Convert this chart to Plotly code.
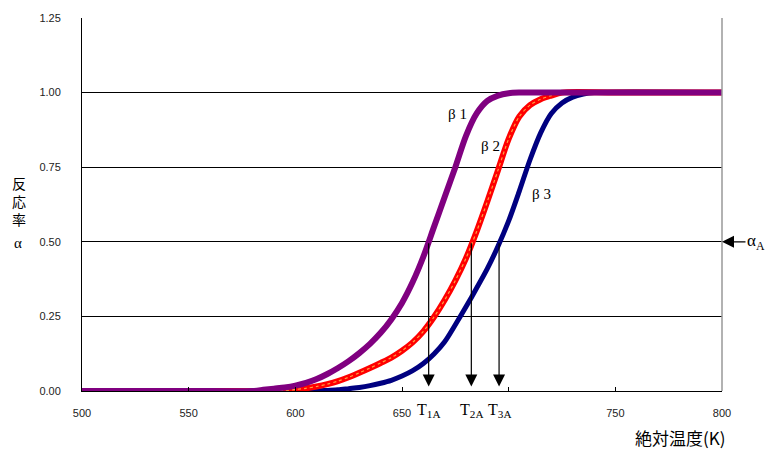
import plotly.graph_objects as go

# Temperature grid (K) and reaction rate readings for each heating rate
temps_b1 = [500, 550, 580, 585, 590, 595, 600, 605, 610, 615, 620, 625, 630, 635, 640, 645, 650,
            655, 660, 665, 670, 675, 680, 685, 690, 695, 700, 705, 750, 800]
alpha_b1 = [0.0, 0.0, 0.0, 0.004, 0.008, 0.012, 0.018, 0.027, 0.04, 0.057, 0.077, 0.1, 0.127, 0.158,
            0.195, 0.24, 0.295, 0.365, 0.45, 0.55, 0.65, 0.75, 0.855, 0.93, 0.972, 0.99, 0.998, 1.0, 1.0, 1.0]

temps_b2 = [500, 550, 590, 595, 600, 605, 610, 615, 620, 625, 630, 635, 640, 645, 650, 655, 660,
            665, 670, 675, 680, 685, 690, 695, 700, 705, 710, 715, 720, 725, 750, 800]
alpha_b2 = [0.0, 0.0, 0.0, 0.002, 0.005, 0.009, 0.015, 0.023, 0.033, 0.046, 0.061, 0.077, 0.094,
            0.112, 0.135, 0.163, 0.2, 0.248, 0.305, 0.37, 0.445, 0.535, 0.635, 0.74, 0.845, 0.92, 0.958,
            0.978, 0.99, 1.0, 1.0, 1.0]

temps_b3 = [500, 550, 610, 615, 620, 625, 630, 635, 640, 645, 650, 655, 660, 665, 670, 675, 680,
            685, 690, 695, 700, 705, 710, 715, 720, 725, 730, 735, 740, 800]
alpha_b3 = [0.0, 0.0, 0.0, 0.002, 0.004, 0.008, 0.012, 0.018, 0.026, 0.036, 0.05, 0.068, 0.092,
            0.124, 0.165, 0.222, 0.282, 0.345, 0.41, 0.485, 0.57, 0.67, 0.775, 0.865, 0.93, 0.965, 0.985,
            0.995, 1.0, 1.0]

# Temperatures at alpha_A = 0.5
t_half = [662.5, 682.5, 695.5]
t_labels = ["T<sub>1A</sub>", "T<sub>2A</sub>", "T<sub>3A</sub>"]
alpha_a = 0.5

x_ticks = [500, 550, 600, 650, 700, 750, 800]
x_ticktext = ["500", "550", "600", "650", "", "750", "800"]  # 700 hidden behind T3A label
y_ticks = [0, 0.25, 0.5, 0.75, 1.0, 1.25]
y_ticktext = ["0.00", "0.25", "0.50", "0.75", "1.00", "1.25"]

series = [
    ("β3", temps_b3, alpha_b3, "#000080", 5),
    ("β2", temps_b2, alpha_b2, "#FF0000", 6),
    ("β1", temps_b1, alpha_b1, "#800080", 6),
]

fig = go.Figure()
for name, xs, ys, color, w in series:
    fig.add_trace(go.Scatter(x=xs, y=ys, mode="lines", name=name,
                             line=dict(color=color, width=w, shape="spline", smoothing=0.8),
                             showlegend=False))
    if name == "β2":
        fig.add_trace(go.Scatter(x=xs, y=ys, mode="lines", showlegend=False, hoverinfo="skip",
                                 line=dict(color="#FFA040", width=1.2, dash="dot",
                                           shape="spline", smoothing=0.8)))

tick_font = dict(family="Liberation Sans, Arial", size=11, color="#222")

fig.update_layout(
    width=772, height=451,
    margin=dict(l=82, r=50, t=16, b=60),
    paper_bgcolor="white", plot_bgcolor="white",
    xaxis=dict(range=[500, 800], tickvals=x_ticks, ticktext=x_ticktext,
               showgrid=False, zeroline=False, showline=True, linecolor="black", linewidth=1,
               ticks="inside", ticklen=4, tickcolor="black", tickfont=tick_font,
               ticklabelstandoff=12),
    yaxis=dict(range=[0, 1.25], tickvals=y_ticks, ticktext=y_ticktext,
               showgrid=True, gridcolor="black", gridwidth=1, zeroline=False,
               showline=True, linecolor="black", linewidth=1, ticks="", tickfont=tick_font,
               ticklabelstandoff=18),
)

# right border
fig.add_shape(type="line", xref="paper", yref="paper", x0=1, x1=1, y0=0, y1=1,
              line=dict(color="#999", width=1.5))

serif = "Liberation Serif, Times New Roman, serif"

# vertical arrows from alpha_A to the temperature axis
for t, lab in zip(t_half, t_labels):
    fig.add_annotation(x=t, y=0.015, ax=t, ay=alpha_a, xref="x", yref="y", axref="x", ayref="y",
                       text="", showarrow=True, arrowhead=2, arrowsize=2.0, arrowwidth=1.2,
                       arrowcolor="black")
    fig.add_annotation(x=t, y=0, xref="x", yref="y", yanchor="top", yshift=-8,
                       text=lab, showarrow=False,
                       font=dict(family=serif, size=16, color="black"))

# alpha_A marker at the right edge
fig.add_annotation(x=800, y=alpha_a, xref="x", yref="y", ax=34, ay=0,
                   text="α<sub>A</sub>", showarrow=True, arrowhead=2, arrowsize=2.0,
                   arrowwidth=1.2, arrowcolor="black",
                   font=dict(family=serif, size=17, color="black"))

# curve labels
for txt, x, y in [("β 1", 676, 0.927), ("β 2", 691.5, 0.82), ("β 3", 715.5, 0.66)]:
    fig.add_annotation(x=x, y=y, xref="x", yref="y", text=txt, showarrow=False,
                       font=dict(family=serif, size=15, color="black"))

# axis titles
cjk = "Noto Sans CJK JP"
fig.add_annotation(xref="paper", yref="paper", x=(19 - 82) / 640, y=(391 - 200) / 375,
                   xanchor="center", yanchor="middle",
                   text="反<br>応<br>率", showarrow=False,
                   font=dict(family=cjk, size=14, color="black"))
fig.add_annotation(xref="paper", yref="paper", x=(18 - 82) / 640, y=(391 - 242) / 375,
                   xanchor="center", yanchor="middle",
                   text="α", showarrow=False, font=dict(family=serif, size=15, color="black"))
fig.add_annotation(xref="paper", yref="paper", x=(680 - 82) / 640, y=(391 - 438) / 375,
                   xanchor="center", yanchor="middle",
                   text="絶対温度(K)", showarrow=False,
                   font=dict(family=cjk, size=17, color="black"))

fig.write_html("out.html")
